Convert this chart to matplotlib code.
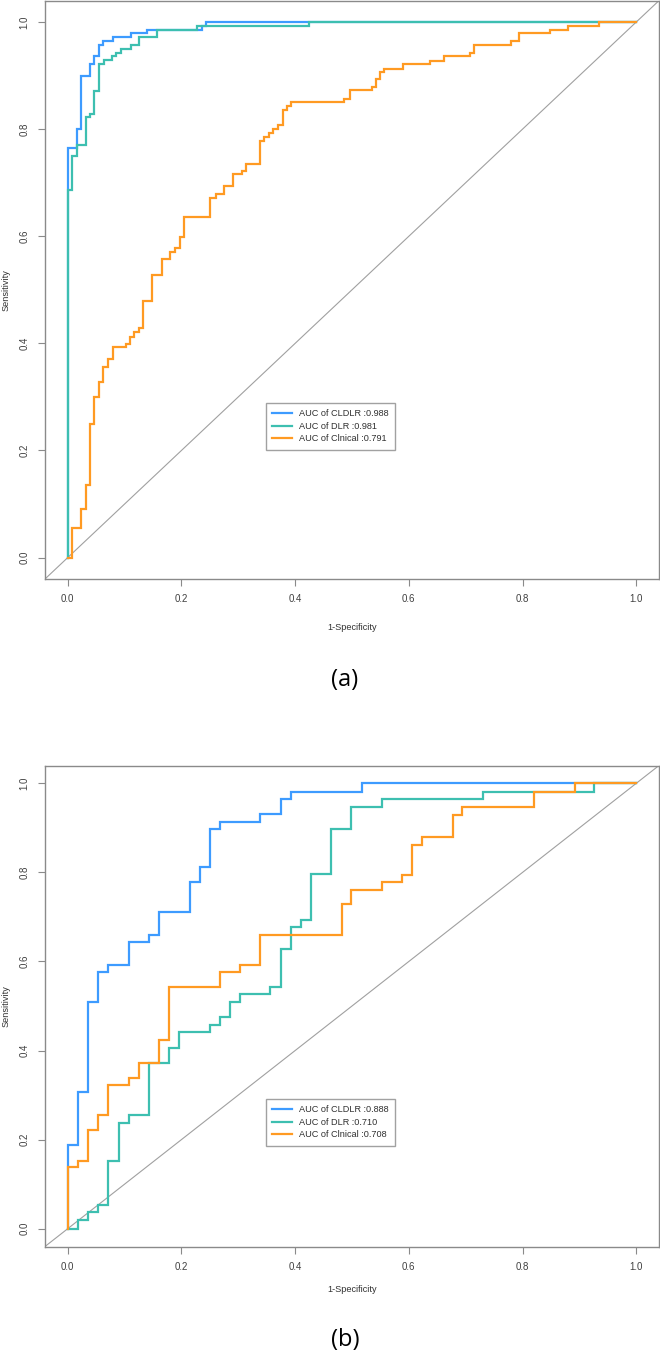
import matplotlib
matplotlib.use("Agg")
import matplotlib.pyplot as plt

plt.rcParams['font.family'] = ['Liberation Sans', 'DejaVu Sans']

# ---------------- data (ROC step points, 1-specificity vs sensitivity) -------------
models = ["CLDLR", "DLR", "Clinical"]
legend_names = ["CLDLR", "DLR", "Clnical"]
auc_a = [0.988, 0.981, 0.791]
auc_b = [0.888, 0.710, 0.708]

a_cldlr_fpr = [0, 0.016, 0.023, 0.039, 0.047, 0.055, 0.0625, 0.080, 0.1105, 0.140, 0.237, 0.243, 1.0]
a_cldlr_tpr = [0, 0.765, 0.800, 0.900, 0.922, 0.936, 0.957, 0.964, 0.972, 0.979, 0.986, 0.993, 1.0]

a_dlr_fpr = [0, 0.008, 0.016, 0.032, 0.039, 0.047, 0.055, 0.064, 0.078, 0.085, 0.093, 0.1105,
             0.126, 0.157, 0.228, 0.425, 1.0]
a_dlr_tpr = [0, 0.686, 0.750, 0.771, 0.822, 0.828, 0.872, 0.922, 0.929, 0.936, 0.943, 0.950,
             0.957, 0.972, 0.986, 0.993, 1.0]

a_clin_fpr = [0, 0.008, 0.0233, 0.032, 0.0397, 0.047, 0.055, 0.0625, 0.070, 0.079, 0.1023, 0.1093,
              0.117, 0.125, 0.1327, 0.149, 0.165, 0.1807, 0.188, 0.197, 0.204, 0.251, 0.260, 0.2748,
              0.2906, 0.3063, 0.314, 0.3374, 0.346, 0.3537, 0.3607, 0.3695, 0.378, 0.3853, 0.393,
              0.4865, 0.4965, 0.5344, 0.542, 0.5497, 0.5567, 0.5889, 0.6368, 0.661, 0.7075, 0.7146,
              0.779, 0.7935, 0.848, 0.880, 0.935, 1.0]
a_clin_tpr = [0, 0, 0.0555, 0.091, 0.1346, 0.2486, 0.299, 0.327, 0.3557, 0.370, 0.3925, 0.3987,
              0.4125, 0.4206, 0.428, 0.4785, 0.528, 0.5576, 0.5707, 0.5788, 0.5994, 0.6355, 0.671,
              0.678, 0.693, 0.7153, 0.7215, 0.7358, 0.7776, 0.7857, 0.793, 0.8006, 0.807, 0.8355,
              0.843, 0.850, 0.8567, 0.8723, 0.8785, 0.894, 0.907, 0.913, 0.922, 0.928, 0.936,
              0.9426, 0.958, 0.964, 0.979, 0.9857, 0.9925, 1.0]

b_cldlr_fpr = [0, 0.0175, 0.036, 0.0537, 0.0713, 0.107, 0.143, 0.1607, 0.2146, 0.232, 0.2496,
               0.267, 0.339, 0.3754, 0.393, 0.517, 1.0]
b_cldlr_tpr = [0, 0.188, 0.306, 0.509, 0.576, 0.5925, 0.644, 0.660, 0.712, 0.778, 0.8126,
               0.897, 0.9134, 0.9306, 0.964, 0.981, 1.0]

b_dlr_fpr = [0, 0.0175, 0.036, 0.0537, 0.0713, 0.0895, 0.107, 0.143, 0.178, 0.196, 0.2496, 0.267,
             0.286, 0.3035, 0.356, 0.3754, 0.392, 0.4105, 0.428, 0.463, 0.498, 0.552, 0.730, 0.925, 1.0]
b_dlr_tpr = [0, 0.0, 0.0186, 0.037, 0.0537, 0.152, 0.238, 0.2545, 0.373, 0.4067, 0.441, 0.4574,
             0.475, 0.509, 0.526, 0.5425, 0.627, 0.677, 0.693, 0.7954, 0.897, 0.947, 0.964, 0.981, 1.0]

b_clin_fpr = [0, 0.0175, 0.036, 0.0537, 0.0713, 0.107, 0.125, 0.1607, 0.178, 0.267, 0.3035, 0.339,
              0.482, 0.498, 0.552, 0.588, 0.605, 0.624, 0.678, 0.694, 0.820, 0.892, 1.0]
b_clin_tpr = [0, 0.1395, 0.153, 0.2216, 0.255, 0.3217, 0.3387, 0.373, 0.4238, 0.5425, 0.576, 0.5925,
              0.660, 0.729, 0.761, 0.778, 0.795, 0.8625, 0.880, 0.9297, 0.947, 0.981, 1.0]

ticks = [0.0, 0.2, 0.4, 0.6, 0.8, 1.0]
tick_labels = ["0.0", "0.2", "0.4", "0.6", "0.8", "1.0"]
colors = ["#3d9bff", "#3dbfb0", "#ff9a22"]

# ---------------- figure ----------------
W, H = 660, 1363
fig = plt.figure(figsize=(W / 100, H / 100), dpi=100)


def px_rect(left, top, right, bottom):
    return [left / W, 1 - bottom / H, (right - left) / W, (bottom - top) / H]


panels = [
    dict(rect=px_rect(45, 0.6, 659, 579),
         curves=[(a_cldlr_fpr, a_cldlr_tpr), (a_dlr_fpr, a_dlr_tpr), (a_clin_fpr, a_clin_tpr)],
         aucs=auc_a, leg_top=403, label="(a)", label_y=680, xlab_y=627),
    dict(rect=px_rect(45, 765.5, 659, 1246.5),
         curves=[(b_cldlr_fpr, b_cldlr_tpr), (b_dlr_fpr, b_dlr_tpr), (b_clin_fpr, b_clin_tpr)],
         aucs=auc_b, leg_top=1099, label="(b)", label_y=1340, xlab_y=1290),
]

spine_col = "#8a8a8a"
txt_col = "#404040"

for p in panels:
    ax = fig.add_axes(p["rect"])
    ax.set_xlim(-0.04, 1.04)
    ax.set_ylim(-0.04, 1.04)
    ax.plot([-0.04, 1.04], [-0.04, 1.04], color="#a0a0a0", lw=0.8, zorder=1)
    for (fx, ty), c, name, auc in zip(p["curves"], colors, legend_names, p["aucs"]):
        ax.plot(fx, ty, drawstyle="steps-pre", color=c, lw=1.6, zorder=2,
                label=f"AUC of {name} :{auc:.3f}", solid_joinstyle="miter")
    for s in ax.spines.values():
        s.set_color(spine_col)
        s.set_linewidth(1.0)
    ax.set_xticks(ticks)
    ax.set_xticklabels(tick_labels)
    ax.set_yticks(ticks)
    ax.set_yticklabels(tick_labels, rotation=90, va="center")
    ax.tick_params(axis="both", colors=spine_col, labelcolor=txt_col, labelsize=7,
                   length=5, width=0.8, direction="out", pad=6)
    leg = ax.legend(loc="upper left", bbox_to_anchor=(266 / W, 1 - p["leg_top"] / H),
                    bbox_transform=fig.transFigure, borderaxespad=0, fontsize=6.6,
                    frameon=True, fancybox=False, edgecolor=spine_col, handlelength=2.1,
                    handletextpad=0.8, labelspacing=0.38, borderpad=0.7)
    leg.get_frame().set_linewidth(1.0)
    for t in leg.get_texts():
        t.set_color("#303030")
    # axis titles
    fig.text(352 / W, 1 - p["xlab_y"] / H, "1-Specificity", ha="center", va="center",
             fontsize=6.6, color="#303030")
    top = (1 - p["rect"][1] - p["rect"][3]) * H
    bottom = (1 - p["rect"][1]) * H
    fig.text(6 / W, 1 - (top + bottom) / 2 / H, "Sensitivity", ha="center", va="center",
             rotation=90, fontsize=6.6, color="#303030")
    fig.text(345 / W, 1 - p["label_y"] / H, p["label"], ha="center", va="center",
             fontsize=17, color="black", family=["Open Sans", "DejaVu Sans"])

fig.savefig("out.png", dpi=100)
